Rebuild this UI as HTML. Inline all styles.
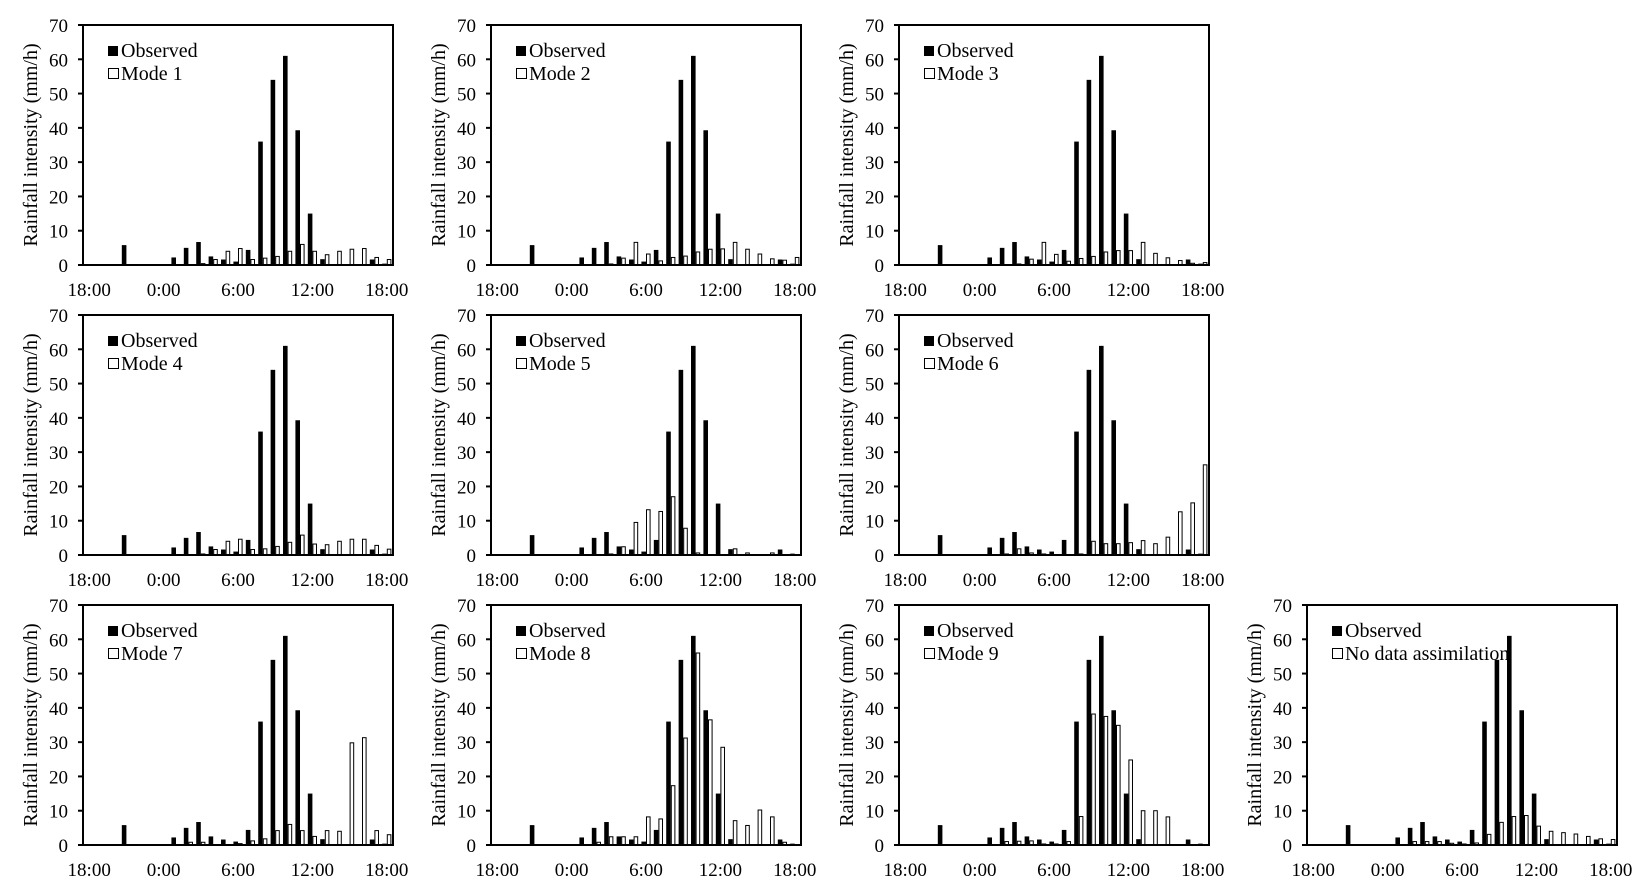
<!DOCTYPE html>
<html><head><meta charset="utf-8"><style>
html,body{margin:0;padding:0;background:#fff;}
svg{display:block;font-family:"Liberation Serif",serif;}
</style></head><body>
<svg id="chart" width="1652" height="892" viewBox="0 0 1652 892" xmlns="http://www.w3.org/2000/svg"></svg>
<script>
const hours = ["18:00","19:00","20:00","21:00","22:00","23:00","0:00","1:00","2:00","3:00","4:00","5:00","6:00","7:00","8:00","9:00","10:00","11:00","12:00","13:00","14:00","15:00","16:00","17:00","18:00"];
const xTickLabels = ["18:00","0:00","6:00","12:00","18:00"];
const xTickIndex = [0,6,12,18,24];
const yTicks = [0,10,20,30,40,50,60,70];
const observed = [0,0,0,5.8,0,0,0,2.2,5,6.7,2.5,1.6,1,4.4,36,54,61,39.3,15,1.7,0,0,0,1.6,0.4];
const mode1 = [0,0,0,0,0,0,0,0,0,0.4,1.6,4,4.8,1.6,2,2.5,4,6,4,3,4,4.6,4.8,2.2,1.6];
const mode2 = [0,0,0,0,0,0,0,0,0,0.3,2,6.6,3.2,1.2,2.2,2.6,3.8,4.6,4.7,6.6,4.6,3.2,1.8,1.4,2.2];
const mode3 = [0,0,0,0,0,0,0,0,0,0.3,1.7,6.6,3.1,1.1,1.9,2.5,3.8,4.2,4.2,6.6,3.4,2.1,1.3,0.5,0.7];
const mode4 = [0,0,0,0,0,0,0,0,0,0.3,1.6,4,4.6,1.6,1.8,2.5,3.7,5.8,3.2,3,4,4.6,4.6,2.8,1.7];
const mode5 = [0,0,0,0,0,0,0,0,0,0.3,2.4,9.5,13.2,12.7,17,7.8,0.6,0,0,1.8,0.6,0,0.6,0,0];
const mode6 = [0,0,0,0,0,0,0,0,0.3,1.8,0.6,0.3,0,0,0.3,4,3.3,3.3,3.6,4.2,3.3,5.2,12.6,15.2,26.3];
const mode7 = [0,0,0,0,0,0,0,0,0.8,0.8,0,0,0.4,1.2,1.8,4.2,6,4.2,2.5,4.2,4,29.8,31.3,4.2,3];
const mode8 = [0,0,0,0,0,0,0,0,0.8,2.4,2.4,2.4,8.2,7.6,17.3,31.2,56,36.5,28.5,7.1,5.7,10.2,8.2,0.8,0];
const mode9 = [0,0,0,0,0,0,0,0,1,1.1,1.2,0.3,0.3,1,8.3,38.2,37.5,34.9,24.8,10,10,8.2,0,0,0];
const noDA = [0,0,0,0,0,0,0,0,1,1,1,0.5,0.3,0.6,3.1,6.6,8.3,8.6,5.5,4,3.6,3.2,2.5,1.8,1.6];
const panelLabels = ["Mode 1","Mode 2","Mode 3","Mode 4","Mode 5","Mode 6","Mode 7","Mode 8","Mode 9","No data assimilation"];
const panelSeries = [mode1,mode2,mode3,mode4,mode5,mode6,mode7,mode8,mode9,noDA];

const NS="http://www.w3.org/2000/svg";
const svg=document.getElementById('chart');
function mk(tag,attrs,parent){const e=document.createElementNS(NS,tag);for(const k in attrs)e.setAttribute(k,attrs[k]);(parent||svg).appendChild(e);return e;}
const cols=[83,491,899,1307], bottoms=[265,555,845];
const positions=[[0,0],[1,0],[2,0],[0,1],[1,1],[2,1],[0,2],[1,2],[2,2],[3,2]];
const W=310,H=240,YMAX=70;
positions.forEach(function(p,pi){
  const L=cols[p[0]], B=bottoms[p[1]], T=B-H;
  const g=mk('g',{});
  
  
  const cw=W/hours.length;
  const xs=i=>L+i*cw;
  const ys=v=>B-v/YMAX*H;
  const bw=cw*0.37;
  observed.forEach(function(v,i){
    if(v<=0)return;
    const r=mk('rect',{x:xs(i)+cw*0.5-bw,y:ys(v),width:bw,height:B-ys(v),fill:'#000'},g);
    
    
  });
  panelSeries[pi].forEach(function(v,i){
    if(v<=0)return;
    const r=mk('rect',{x:xs(i)+cw*0.5+0.5,y:ys(v),width:bw-1,height:B-ys(v),fill:'#fff',stroke:'#000','stroke-width':1},g);
    
    
  });
  const frame=mk('rect',{x:L,y:T,width:W,height:H,fill:'none',stroke:'#000','stroke-width':2},g);
  
  
  yTicks.forEach(function(t){
    const y=ys(t);
    const tk=mk('line',{x1:L-5,x2:L,y1:y,y2:y,stroke:'#000','stroke-width':2},g);
    
    
    const tx=mk('text',{x:L-15,y:y+7,'text-anchor':'end','font-size':19},g);
    tx.textContent=t;
    
    
  });
  xTickIndex.forEach(function(idx,k){
    const tx=mk('text',{x:xs(idx)+cw/2,y:B+31,'text-anchor':'middle','font-size':19},g);
    tx.textContent=xTickLabels[k];
    
    
  });
  const yt=mk('text',{x:0,y:0,'text-anchor':'middle','font-size':20,transform:'translate('+(L-46)+','+(T+H/2)+') rotate(-90)'},g);
  yt.textContent='Rainfall intensity (mm/h)';
  
  
  const l1=mk('rect',{x:L+25,y:T+21,width:10,height:10,fill:'#000'},g);
  
  
  const t1=mk('text',{x:L+38,y:T+32,'font-size':20},g);
  t1.textContent='Observed';
  
  
  const l2=mk('rect',{x:L+25.5,y:T+43.5,width:10,height:10,fill:'#fff',stroke:'#000','stroke-width':1},g);
  
  
  const t2=mk('text',{x:L+38,y:T+55,'font-size':20},g);
  t2.textContent=panelLabels[pi];
  
  
});
</script>
</body></html>
